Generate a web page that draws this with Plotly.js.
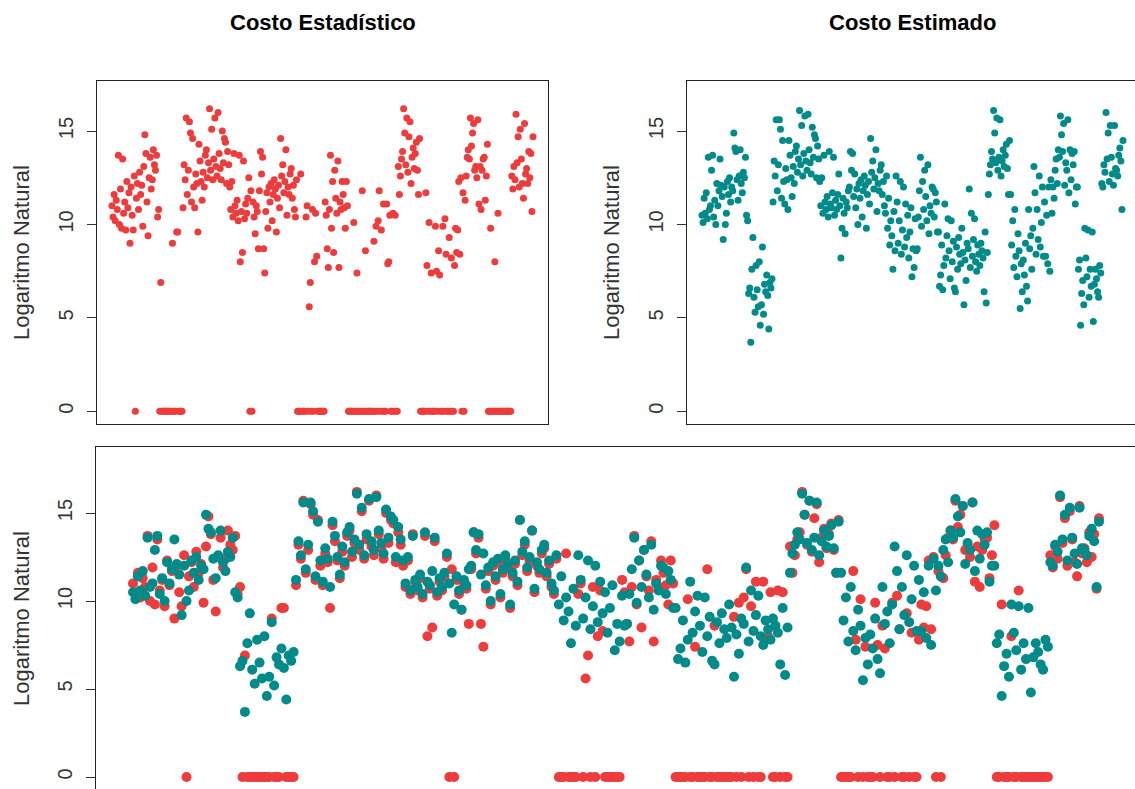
<!DOCTYPE html>
<html>
<head>
<meta charset="utf-8">
<script src="https://cdn.plot.ly/plotly-3.0.1.min.js"></script>
<style>html,body{margin:0;padding:0;background:#fff;}#chart{width:1135px;height:789px;}</style>
</head>
<body>
<div id="chart"></div>
<script>
// Costo Estadístico (red) – natural log values by observation order
const costoEstadistico = [
  11.0, 10.4, 11.6, 10.2, 11.3, 10.8, 13.7, 10.0, 11.9, 9.8, 13.5, 10.6, 11.2, 9.7, 12.3, 10.9, 11.7, 9.0, 12.0, 10.5, 9.7, 12.6, 0, 11.4, 12.2, 10.8, 12.8, 11.6, 12.1, 9.9, 13.1, 14.8, 13.8, 11.2, 9.4, 12.5, 13.6, 11.9, 12.4, 14.0, 13.2, 12.9, 13.7, 10.4,
  10.8, 0, 6.9, 0, 0, 0, 0, 0, 0, 0, 0, 0, 0, 9.0, 0, 0, 0, 9.6, 9.6, 0, 0, 0, 0,
  10.9, 13.2, 12.4, 15.7, 11.6, 12.9, 15.5, 14.9, 11.2, 14.6, 12.0, 10.9, 12.7, 12.2, 9.6, 14.3, 13.4, 12.3, 11.3, 12.8, 12.0, 13.7, 14.0, 12.5, 13.3, 16.2, 12.9, 15.1, 12.4, 13.5, 15.7, 13.1, 12.6, 16.0, 13.8, 13.0, 12.4, 15.0, 13.3, 14.6, 14.4, 12.2, 13.9, 13.2, 12.0,
  10.8, 12.3, 10.4, 13.8, 11.0, 10.6, 11.3, 10.2, 13.7, 8.0, 10.7, 8.5, 13.4, 10.3, 11.1, 10.6, 11.4, 12.5, 0, 11.8, 0, 11.2, 10.4, 9.5, 11.0, 10.7, 8.7, 11.8, 13.9, 12.7, 13.6, 8.7, 7.4, 10.7, 11.7, 9.8, 12.0, 11.2, 12.2, 10.2, 11.6, 12.4, 11.9, 9.6, 11.4, 12.1, 10.9, 14.6, 12.6, 13.2, 11.7, 12.3, 14.0, 10.5, 12.0, 11.6, 12.7, 13.0, 11.4, 12.1, 10.8, 10.4, 12.4,
  0, 0, 0, 12.7, 0, 0, 0, 0, 10.4, 11.0, 0, 5.6, 6.9, 0, 10.8, 0, 8.0, 10.6, 8.3, 0, 0, 0, 0, 0, 0, 0, 11.2, 10.5,
  8.7, 7.7, 10.8, 13.7, 9.8, 12.3, 8.5, 12.9, 11.4, 10.6, 13.4, 7.7, 11.2, 10.8, 12.3, 11.6, 10.9, 9.8, 12.3, 11.0,
  0, 0, 0, 0, 0, 10.1, 0, 0, 7.4, 0, 0, 0, 0, 11.8, 0, 0, 8.6, 0, 0, 0, 0, 0, 0, 0, 9.1, 0, 9.9, 0, 10.2, 11.8, 0, 9.7, 0, 11.1, 0, 0, 11.1, 7.9, 8.0, 10.5, 0, 0, 10.6, 0, 10.5, 0, 0,
  13.1, 11.6, 12.6, 13.5, 13.9, 16.2, 14.9, 13.2, 15.7, 12.8, 14.7, 15.5, 12.2, 13.6, 14.1, 13.0, 13.8, 14.4, 12.9, 11.6, 14.6,
  0, 0, 0, 0, 0, 11.7, 7.8, 0, 10.1, 0, 7.4, 0, 0, 0, 9.9, 7.5, 0, 8.6, 7.3, 0, 0, 9.9, 0, 10.3, 8.4, 0, 0, 9.3, 0, 8.2, 0, 0, 7.8,
  9.8, 8.5, 9.7, 12.3, 8.4, 12.5, 0, 11.7, 0, 11.3, 12.6, 13.6, 14.0, 13.5, 15.7, 14.2, 14.9, 15.4, 12.9, 13.1, 12.5, 15.6, 11.1, 13.1, 10.8, 12.9, 13.5, 13.6, 11.3, 12.6,
  14.3, 0, 0, 9.8, 0, 0, 0, 8.0, 0, 0, 10.6, 0, 0, 0, 0, 0, 0, 0, 0, 0, 0, 0, 0,
  12.6, 11.9, 13.1, 12.4, 15.9, 13.3, 14.7, 12.0, 15.1, 13.5, 12.2, 11.4, 15.4, 12.7, 13.0, 12.2, 13.9, 12.5, 13.8, 10.7, 14.7
];
// Costo Estimado (teal)
const costoEstimado = [
  10.5, 10.1, 11.4, 10.6, 11.7, 10.3, 13.6, 10.8, 11.0, 12.9, 13.7, 10.4, 11.3, 10.0, 12.2, 11.0, 11.8, 13.5, 12.1, 11.5, 9.2, 12.0, 10.0, 10.6, 12.3, 11.6, 12.5, 11.2, 12.0, 11.8, 14.9, 14.1, 13.9, 12.4, 11.3, 12.6, 14.0, 12.2, 11.7, 12.8, 12.5, 13.6, 10.5, 10.2,
  6.3, 6.6, 3.7, 7.6, 9.3, 6.1, 5.3, 7.8, 6.5, 5.6, 8.0, 4.6, 5.7, 8.8, 5.2, 6.8, 6.4, 7.3, 6.2, 4.4, 6.9, 6.6, 7.1,
  11.2, 13.4, 12.6, 15.6, 11.8, 13.2, 15.6, 15.1, 11.4, 14.5, 12.3, 11.1, 13.0, 12.4, 10.8, 14.5, 13.7, 12.5, 11.5, 13.1, 12.2, 13.9, 14.2, 12.8, 13.5, 16.1, 13.2, 15.3, 12.6, 13.8, 15.8, 13.4, 12.9, 15.9, 14.0, 13.3, 12.7, 15.2, 13.6, 14.8, 14.6, 12.5, 14.2, 13.5, 12.3,
  11.0, 12.5, 10.6, 13.7, 11.2, 10.8, 11.5, 10.4, 13.9, 11.1, 10.9, 11.7, 13.6, 10.5, 11.3, 10.8, 11.6, 12.7, 11.0, 8.2, 9.8, 11.4, 10.6, 9.5, 11.2, 10.9, 11.8, 12.0, 13.9, 12.9, 13.8, 11.5, 12.7, 10.9, 11.9, 10.0, 12.2, 11.4, 12.4, 10.4, 11.8, 12.6, 12.1, 9.8, 11.6, 12.3, 11.1, 14.6, 12.8, 13.4, 11.9, 12.5, 14.0, 10.7, 12.2, 11.8, 12.9, 13.2, 11.6, 12.3, 11.0, 10.6, 12.6,
  9.8, 11.4, 8.9, 10.2, 9.4, 7.6, 10.7, 8.6, 12.6, 11.2, 9.0, 10.2, 12.3, 8.4, 9.7, 12.0, 8.8, 11.1, 9.3, 10.5, 8.2, 9.6, 10.9, 7.2, 8.7, 7.7, 10.3, 8.6,
  8.7, 10.4, 11.8, 13.6, 9.9, 12.3, 10.8, 12.9, 11.5, 10.2, 13.2, 9.5, 11.0, 10.6, 12.0, 11.9, 10.4, 11.7, 11.2, 9.6,
  9.6, 6.7, 7.3, 8.9, 6.5, 7.8, 11.1, 8.2, 9.4, 10.3, 8.6, 7.1, 10.2, 8.0, 9.1, 6.6, 6.4, 8.8, 7.6, 9.3, 8.4, 7.9, 9.8, 8.5, 5.7, 8.1, 7.0, 9.0, 8.7, 11.9, 7.7, 10.6, 8.3, 9.2, 10.3, 8.0, 7.5, 8.9, 8.4, 7.8, 9.0, 8.6, 8.2, 6.4, 9.6, 5.8, 8.5,
  11.6, 12.7, 13.2, 13.9, 13.5, 16.1, 14.9, 13.3, 15.7, 12.9, 13.6, 15.6, 12.6, 13.4, 14.0, 13.1, 13.7, 14.3, 13.0, 11.6, 14.5,
  11.6, 8.9, 10.2, 7.7, 10.8, 8.3, 7.2, 9.5, 8.6, 5.5, 7.9, 6.4, 8.1, 7.3, 9.0, 6.7, 5.9, 10.8, 8.7, 9.4, 7.6, 9.8, 13.1, 11.7, 8.4, 10.8, 9.2, 12.6, 8.8, 10.1, 12.0, 8.3, 11.2,
  8.3, 10.5, 7.9, 12.0, 7.5, 12.4, 10.6, 12.0, 11.4, 12.9, 13.5, 12.2, 14.0, 13.6, 15.8, 14.8, 13.9, 15.4, 12.1, 13.3, 12.9, 15.6, 11.7, 14.0, 12.4, 13.8, 13.2, 13.9, 11.1, 12.0,
  12.0, 7.6, 8.1, 4.6, 6.3, 7.0, 5.7, 9.8, 8.2, 7.2, 9.7, 6.1, 7.6, 6.7, 9.6, 4.8, 6.8, 7.6, 7.1, 6.4, 6.1, 7.8, 7.4,
  12.2, 12.0, 13.2, 12.8, 16.0, 13.5, 14.9, 12.3, 15.3, 13.6, 12.7, 12.1, 15.3, 13.0, 12.9, 12.6, 13.7, 14.1, 13.4, 10.8, 14.5
];
const tickValues = [0, 5, 10, 15];
const panelTitles = ["Costo Estadístico", "Costo Estimado"];
const yTitle = "Logaritmo Natural";

const RED = "#EE3B3B", TEAL = "#008B8B";
const W = 1135, H = 789;
const N = costoEstadistico.length;
const idx = Array.from({length: N}, (_, i) => i + 1);

// pixel geometry
const sTop = 421 / (N - 1);           // px per index (top panels)
const aTop = 1 - 15 / sTop;
const sBot = 966 / (N - 1);           // px per index (bottom panel)
const aBot = 1 - 37 / sBot;

const axisFont = {family: "Liberation Sans, Arial, sans-serif", size: 20, color: "#333"};
function yax(extra) {
  return Object.assign({
    showline: true, linecolor: "#222", linewidth: 1, ticks: "outside", ticklen: 9, tickcolor: "#333",
    tickvals: tickValues, ticktext: tickValues.map(String), tickangle: -90, tickfont: axisFont,
    ticklabelstandoff: 6,
    showgrid: false, zeroline: false, fixedrange: true
  }, extra);
}
function xax(extra) {
  return Object.assign({
    showline: true, linecolor: "#222", linewidth: 1, ticks: "", showticklabels: false,
    showgrid: false, zeroline: false, fixedrange: true
  }, extra);
}

const traces = [
  {type: "scatter", mode: "markers", x: idx, y: costoEstadistico, xaxis: "x", yaxis: "y",
   marker: {color: RED, size: 7}, hoverinfo: "skip"},
  {type: "scatter", mode: "markers", x: idx, y: costoEstimado, xaxis: "x2", yaxis: "y2",
   marker: {color: TEAL, size: 7}, hoverinfo: "skip"},
  {type: "scatter", mode: "markers", x: idx, y: costoEstadistico, xaxis: "x3", yaxis: "y3",
   marker: {color: RED, size: 10}, hoverinfo: "skip"},
  {type: "scatter", mode: "markers", x: idx, y: costoEstimado, xaxis: "x3", yaxis: "y3",
   marker: {color: TEAL, size: 10}, hoverinfo: "skip"}
];

const titleFont = {family: "Liberation Sans, Arial, sans-serif", size: 22, color: "#000"};
const yTitleFont = {family: "Liberation Sans, Arial, sans-serif", size: 22, color: "#333"};
const topDom = [1 - 424 / H, 1 - 81 / H];
const layout = {
  width: W, height: H, margin: {l: 0, r: 0, t: 0, b: 0},
  paper_bgcolor: "#fff", plot_bgcolor: "#fff", showlegend: false,
  xaxis: xax({domain: [97 / W, 548 / W], range: [aTop, aTop + 451 / sTop], mirror: true, anchor: "y"}),
  yaxis: yax({domain: topDom, range: [-0.68, 17.68], mirror: true, anchor: "x"}),
  xaxis2: xax({domain: [687 / W, 1], range: [aTop, aTop + 448 / sTop], mirror: true, anchor: "y2"}),
  yaxis2: yax({domain: topDom, range: [-0.68, 17.68], anchor: "x2"}),
  xaxis3: xax({domain: [96 / W, 1], range: [aBot, aBot + 1039 / sBot], side: "top", anchor: "y3"}),
  yaxis3: yax({domain: [0, 1 - 447 / H], range: [-0.68, 18.75], anchor: "x3"}),
  annotations: [
    {text: "<b>" + panelTitles[0] + "</b>", xref: "paper", yref: "paper", x: 323 / W, y: 1 - 23 / H,
     xanchor: "center", yanchor: "middle", showarrow: false, font: titleFont},
    {text: "<b>" + panelTitles[1] + "</b>", xref: "paper", yref: "paper", x: 912 / W, y: 1 - 23 / H,
     xanchor: "center", yanchor: "middle", showarrow: false, font: titleFont},
    {text: yTitle, xref: "paper", yref: "paper", x: 21 / W, y: 1 - 253 / H, textangle: -90,
     xanchor: "center", yanchor: "middle", showarrow: false, font: yTitleFont},
    {text: yTitle, xref: "paper", yref: "paper", x: 611 / W, y: 1 - 253 / H, textangle: -90,
     xanchor: "center", yanchor: "middle", showarrow: false, font: yTitleFont},
    {text: yTitle, xref: "paper", yref: "paper", x: 21 / W, y: 1 - 619 / H, textangle: -90,
     xanchor: "center", yanchor: "middle", showarrow: false, font: yTitleFont}
  ]
};

Plotly.newPlot("chart", traces, layout, {staticPlot: true, displayModeBar: false});
</script>
</body>
</html>
